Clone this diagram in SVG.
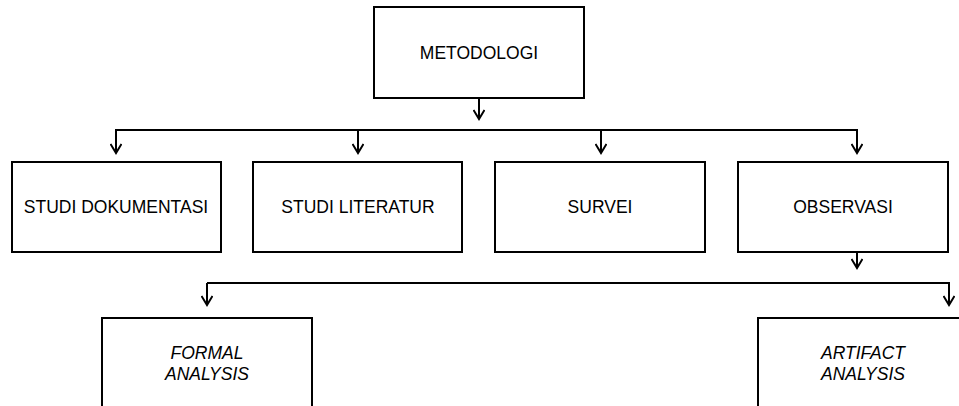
<svg xmlns="http://www.w3.org/2000/svg" width="959" height="406" viewBox="0 0 959 406">
<style>
.box{fill:#fff;stroke:#000;stroke-width:2}
.lbl{font-family:"Liberation Sans",Arial,sans-serif;font-size:17.5px;fill:#000;text-anchor:middle}
.it{font-style:italic}
.con{fill:none;stroke:#000;stroke-width:2}
</style>
<defs>
<marker id="ah" markerWidth="14" markerHeight="12" refX="12" refY="6" orient="auto" markerUnits="userSpaceOnUse">
<polyline points="3,0.5 12,6 3,11.5" fill="none" stroke="#000" stroke-width="2"/>
</marker>
</defs>
<rect width="959" height="406" fill="#fff"/>
<g id="connectors">
<line class="con" x1="479" y1="98" x2="479" y2="119" marker-end="url(#ah)"/>
<polyline class="con" points="116,153 116,130 857,130 857,153" marker-end="url(#ah)"/>
<line class="con" x1="116" y1="130" x2="116" y2="153" marker-end="url(#ah)"/>
<line class="con" x1="358" y1="130" x2="358" y2="153" marker-end="url(#ah)"/>
<line class="con" x1="601" y1="130" x2="601" y2="153" marker-end="url(#ah)"/>
<line class="con" x1="857" y1="252" x2="857" y2="268" marker-end="url(#ah)"/>
<polyline class="con" points="207,283 949,283 949,305" marker-end="url(#ah)"/>
<line class="con" x1="207" y1="283" x2="207" y2="305" marker-end="url(#ah)"/>
</g>
<g id="metodologi">
<rect class="box" x="374" y="7" width="210" height="91"/>
<text class="lbl" x="479" y="59">METODOLOGI</text>
</g>
<g id="studi-dokumentasi">
<rect class="box" x="12" y="162" width="209" height="90"/>
<text class="lbl" x="116" y="213">STUDI DOKUMENTASI</text>
</g>
<g id="studi-literatur">
<rect class="box" x="253" y="162" width="209" height="90"/>
<text class="lbl" x="358" y="213">STUDI LITERATUR</text>
</g>
<g id="survei">
<rect class="box" x="495" y="162" width="210" height="90"/>
<text class="lbl" x="600" y="213">SURVEI</text>
</g>
<g id="observasi">
<rect class="box" x="738" y="162" width="210" height="90"/>
<text class="lbl" x="843" y="213">OBSERVASI</text>
</g>
<g id="formal-analysis">
<rect class="box" x="102" y="318" width="210" height="91"/>
<text class="lbl it" x="207" y="359">FORMAL</text>
<text class="lbl it" x="207" y="380">ANALYSIS</text>
</g>
<g id="artifact-analysis">
<rect class="box" x="758" y="318" width="210" height="91"/>
<text class="lbl it" x="863" y="359">ARTIFACT</text>
<text class="lbl it" x="863" y="380">ANALYSIS</text>
</g>
</svg>
